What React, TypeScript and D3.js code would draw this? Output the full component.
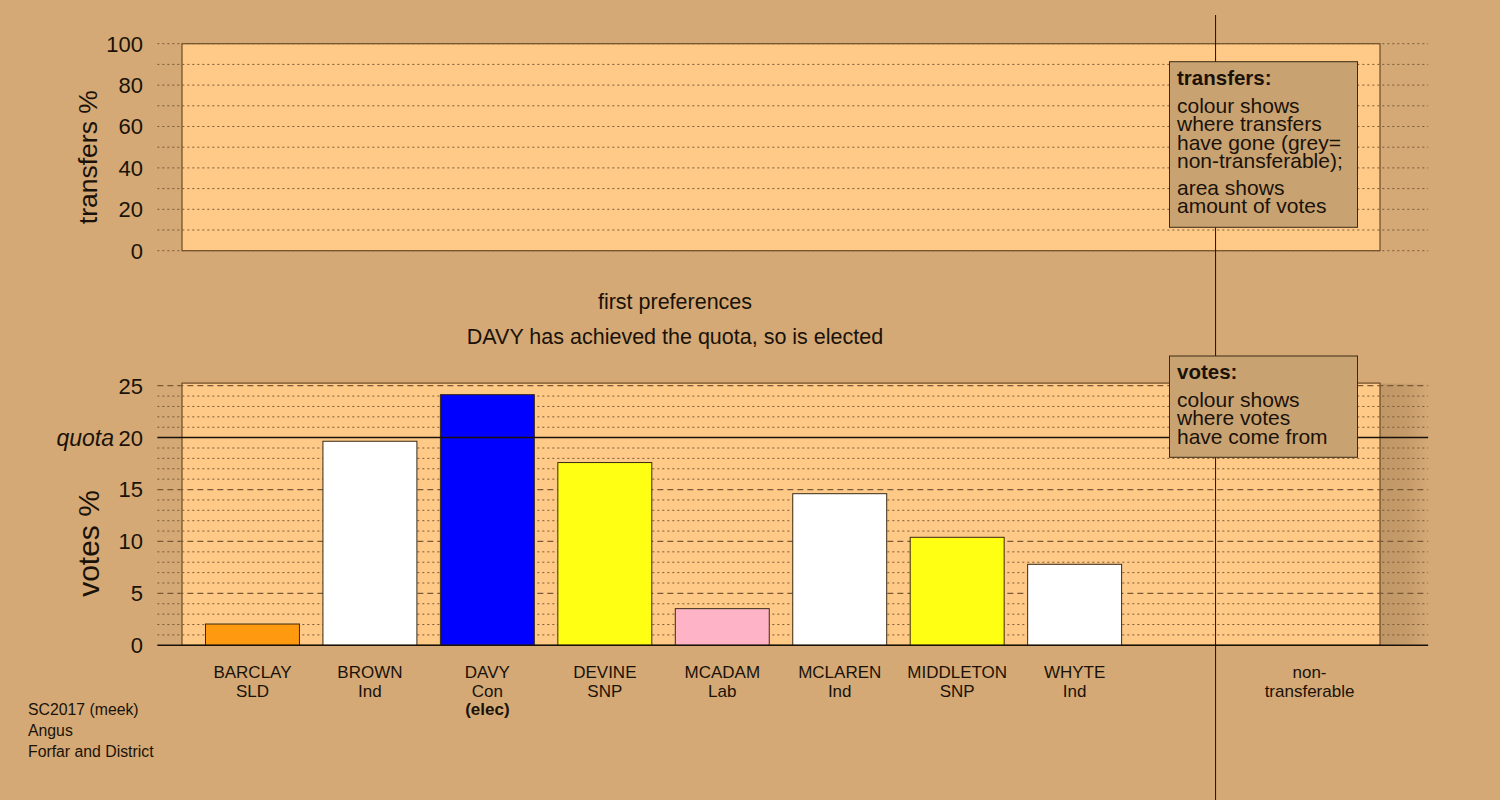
import React, { useRef, useEffect } from "react"
import * as d3 from "d3"

const candidates = ["BARCLAY", "BROWN", "DAVY", "DEVINE", "MCADAM", "MCLAREN", "MIDDLETON", "WHYTE"]
const parties = ["SLD", "Ind", "Con", "SNP", "Lab", "Ind", "SNP", "Ind"]
const votes = [2.05, 19.65, 24.14, 17.6, 3.53, 14.6, 10.4, 7.8]
const barColours = ["#ff9910", "#ffffff", "#0000ff", "#ffff14", "#ffb3c6", "#ffffff", "#ffff14", "#ffffff"]
const elected = ["DAVY"]
const quota = 20
const voteTicks = [0, 5, 10, 15, 20, 25]
const transferTicks = [0, 20, 40, 60, 80, 100]
const footer = ["SC2017 (meek)", "Angus", "Forfar and District"]
const transfersLegend = ["colour shows", "where transfers", "have gone (grey=", "non-transferable);"]
const transfersLegend2 = ["area shows", "amount of votes"]
const votesLegend = ["colour shows", "where votes", "have come from"]

const W = 1500
const H = 800
const BG = "#d4a976"
const PANEL = "#ffca88"
const INK = "#1a1208"
const GRID = "#7a5a36"
const FONT = "'Liberation Sans', Arial, Helvetica, sans-serif"

const App: React.FC = () => {
  const svgRef = useRef<SVGSVGElement | null>(null)

  useEffect(() => {
    if (!svgRef.current) return
    const svg = d3.select(svgRef.current)
    svg.selectAll("*").remove()

    svg.append("rect").attr("width", W).attr("height", H).attr("fill", BG)

    // slot positions: candidates at 0..7, non-transferable at 9
    const x = d3.scaleLinear().domain([-0.6, 9.6]).range([182, 1380])
    const gridX0 = x(-0.81)
    const gridX1 = x(10.01)
    const barW = x(0.8) - x(0)

    const yT = d3.scaleLinear().domain([0, 100]).range([250.7, 43.7])
    const yV = d3.scaleLinear().domain([0, 25]).range([645.3, 385.7])

    const defs = svg.append("defs")
    const grad = defs.append("linearGradient").attr("id", "shade").attr("x1", 0).attr("x2", 1)
    grad.append("stop").attr("offset", "0%").attr("stop-color", "#a07a4c").attr("stop-opacity", 0.4)
    grad.append("stop").attr("offset", "55%").attr("stop-color", "#a07a4c").attr("stop-opacity", 0.3)
    grad.append("stop").attr("offset", "100%").attr("stop-color", "#a07a4c").attr("stop-opacity", 0)

    // ---- top panel (transfers) ----
    svg.append("rect")
      .attr("x", x(-0.6)).attr("y", yT(100))
      .attr("width", x(9.6) - x(-0.6)).attr("height", yT(0) - yT(100))
      .attr("fill", PANEL).attr("stroke", "#6b4a26").attr("stroke-width", 1.2)

    const tGrid = d3.range(0, 101, 10)
    svg.append("g").selectAll("line").data(tGrid).join("line")
      .attr("x1", gridX0).attr("x2", gridX1)
      .attr("y1", (d) => yT(d)).attr("y2", (d) => yT(d))
      .attr("stroke", GRID).attr("stroke-width", 1).attr("stroke-dasharray", "2,3")

    svg.append("g").selectAll("text").data(transferTicks).join("text")
      .attr("x", 143).attr("y", (d) => yT(d)).attr("dy", "0.36em")
      .attr("text-anchor", "end").attr("font-size", 22).attr("fill", INK)
      .attr("font-family", FONT).text((d) => d)

    svg.append("text")
      .attr("transform", `translate(97,${(yT(0) + yT(100)) / 2 + 10}) rotate(-90)`)
      .attr("text-anchor", "middle").attr("font-size", 26.5).attr("fill", INK)
      .attr("font-family", FONT).text("transfers %")

    // ---- titles ----
    svg.append("text").attr("x", 675).attr("y", 309).attr("text-anchor", "middle")
      .attr("font-size", 21.5).attr("fill", INK).attr("font-family", FONT).text("first preferences")
    svg.append("text").attr("x", 675).attr("y", 344).attr("text-anchor", "middle")
      .attr("font-size", 21.5).attr("fill", INK).attr("font-family", FONT)
      .text(`${elected[0]} has achieved the quota, so is elected`)

    // ---- bottom panel (votes) ----
    svg.append("rect")
      .attr("x", x(9.6)).attr("y", yV(25.2))
      .attr("width", gridX1 - x(9.6)).attr("height", yV(0) - yV(25.2))
      .attr("fill", "url(#shade)")

    svg.append("rect")
      .attr("x", x(-0.6)).attr("y", yV(25.25))
      .attr("width", x(9.6) - x(-0.6)).attr("height", yV(0) - yV(25.25))
      .attr("fill", PANEL).attr("stroke", "#6b4a26").attr("stroke-width", 1.2)

    const vGrid = d3.range(1, 26).filter((d) => d !== quota)
    svg.append("g").selectAll("line").data(vGrid).join("line")
      .attr("x1", gridX0).attr("x2", gridX1)
      .attr("y1", (d) => yV(d)).attr("y2", (d) => yV(d))
      .attr("stroke", GRID)
      .attr("stroke-width", (d) => (d % 5 === 0 ? 1.2 : 1))
      .attr("stroke-dasharray", (d) => (d % 5 === 0 ? "6,4" : "2,3"))

    // bars
    svg.append("g").selectAll("rect").data(votes).join("rect")
      .attr("x", (_, i) => x(i) - barW / 2)
      .attr("y", (d) => yV(d))
      .attr("width", barW)
      .attr("height", (d) => yV(0) - yV(d))
      .attr("fill", (_, i) => barColours[i])
      .attr("stroke", "#3a2a14").attr("stroke-width", 1)

    // quota + zero lines
    svg.append("line").attr("x1", gridX0).attr("x2", gridX1)
      .attr("y1", yV(quota)).attr("y2", yV(quota))
      .attr("stroke", INK).attr("stroke-width", 1.5)
    svg.append("line").attr("x1", gridX0).attr("x2", gridX1)
      .attr("y1", yV(0)).attr("y2", yV(0))
      .attr("stroke", INK).attr("stroke-width", 1.5)

    svg.append("g").selectAll("text").data(voteTicks).join("text")
      .attr("x", 143).attr("y", (d) => yV(d)).attr("dy", "0.36em")
      .attr("text-anchor", "end").attr("font-size", 22).attr("fill", INK)
      .attr("font-family", FONT).text((d) => d)

    svg.append("text").attr("x", 114).attr("y", yV(quota)).attr("dy", "0.36em")
      .attr("text-anchor", "end").attr("font-size", 23).attr("font-style", "italic")
      .attr("fill", INK).attr("font-family", FONT).text("quota")

    svg.append("text")
      .attr("transform", `translate(99,${(yV(0) + yV(25)) / 2 + 28}) rotate(-90)`)
      .attr("text-anchor", "middle").attr("font-size", 30).attr("fill", INK)
      .attr("font-family", FONT).text("votes %")

    // category labels
    const lab = svg.append("g").attr("font-family", FONT).attr("font-size", 17)
      .attr("fill", INK).attr("text-anchor", "middle")
    candidates.forEach((c, i) => {
      lab.append("text").attr("x", x(i)).attr("y", 678).text(c)
      lab.append("text").attr("x", x(i)).attr("y", 697).text(parties[i])
      if (elected.includes(c)) {
        lab.append("text").attr("x", x(i)).attr("y", 715).attr("font-weight", "bold").text("(elec)")
      }
    })
    lab.append("text").attr("x", x(9)).attr("y", 678).text("non-")
    lab.append("text").attr("x", x(9)).attr("y", 697).text("transferable")

    // separator before non-transferable
    svg.append("line").attr("x1", x(8.2)).attr("x2", x(8.2))
      .attr("y1", 15).attr("y2", H)
      .attr("stroke", INK).attr("stroke-width", 1)

    // legends
    const legend = (y0: number, h: number, title: string, groups: string[][]) => {
      const g = svg.append("g").attr("font-family", FONT).attr("fill", INK)
      g.append("rect").attr("x", 1169.5).attr("y", y0).attr("width", 188).attr("height", h)
        .attr("fill", "#c9a271").attr("stroke", "#3a2a14").attr("stroke-width", 1)
      g.append("text").attr("x", 1177).attr("y", y0 + 23).attr("font-size", 20.5)
        .attr("font-weight", "bold").text(title)
      let yy = y0 + 51
      groups.forEach((lines) => {
        lines.forEach((t) => {
          g.append("text").attr("x", 1177).attr("y", yy).attr("font-size", 21).text(t)
          yy += 18.4
        })
        yy += 8.3
      })
    }
    legend(61.7, 165.6, "transfers:", [transfersLegend, transfersLegend2])
    legend(356, 101.3, "votes:", [votesLegend])

    // footer
    svg.append("g").attr("font-family", FONT).attr("font-size", 15.8).attr("fill", INK)
      .selectAll("text").data(footer).join("text")
      .attr("x", 28).attr("y", (_, i) => 715 + i * 21).text((d) => d)
  }, [])

  return (
    <svg ref={svgRef} width={W} height={H} style={{ position: "absolute", left: 0, top: 0 }}></svg>
  )
}

export default App
